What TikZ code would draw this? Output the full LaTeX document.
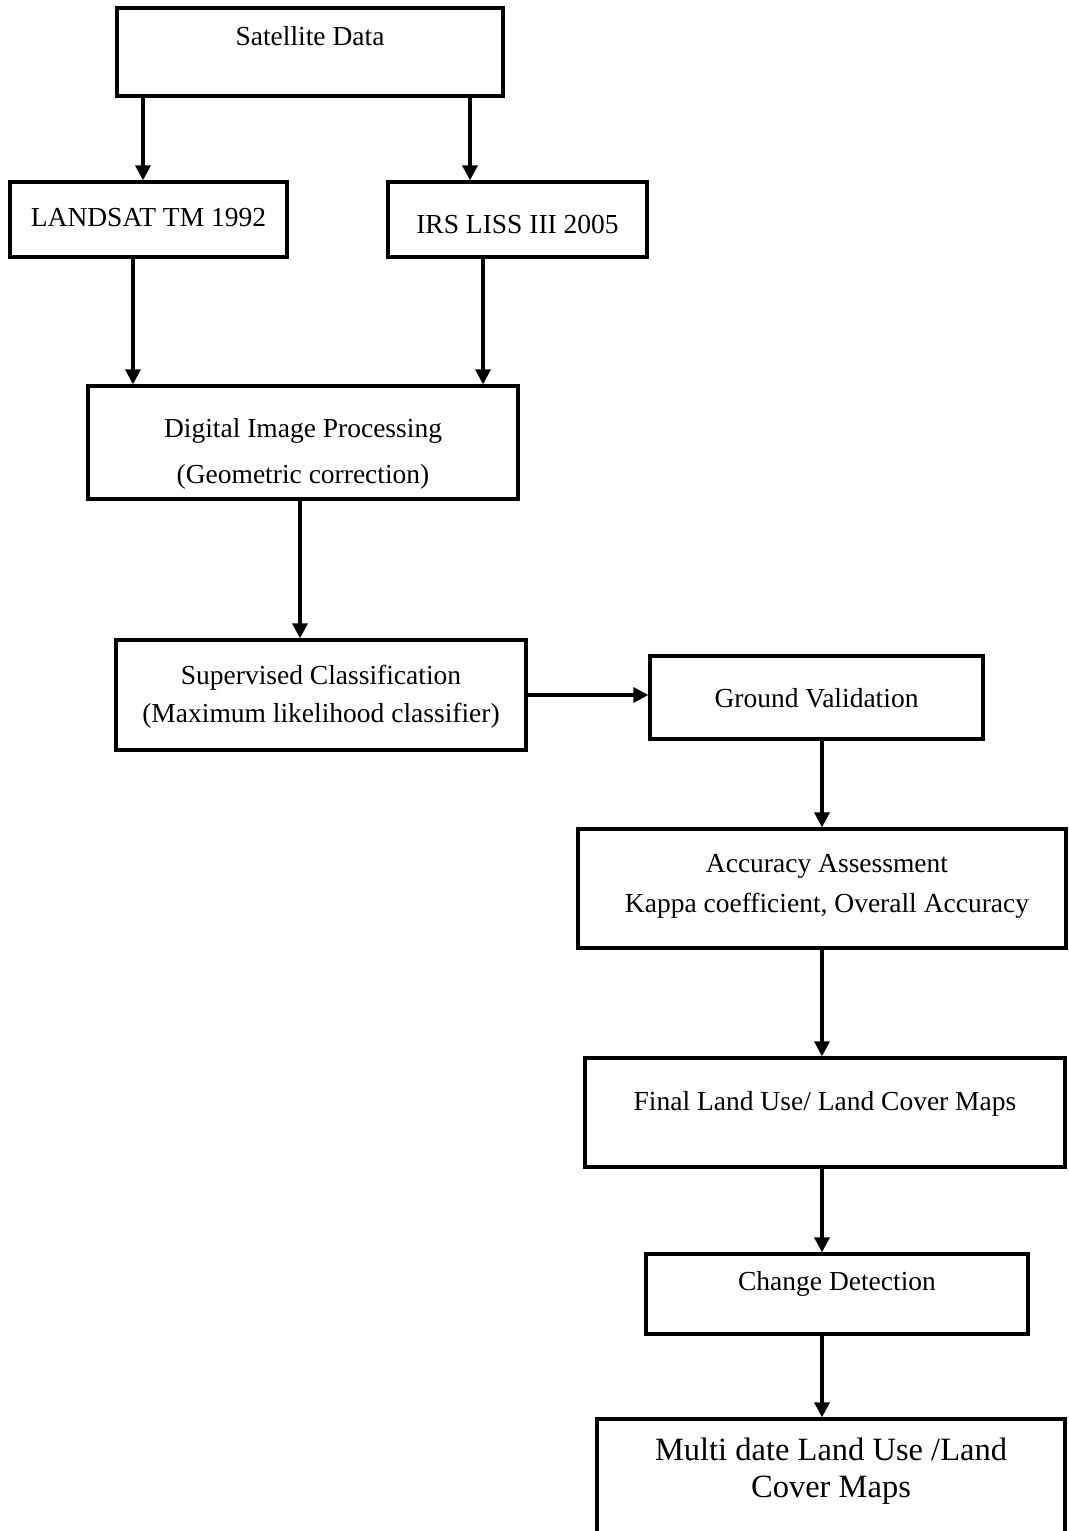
\documentclass[tikz,border=0pt]{standalone}
\usepackage{fontspec}
\setmainfont{Liberation Serif}
\usetikzlibrary{arrows.meta}
\begin{document}
\begin{tikzpicture}[x=1pt,y=-1pt,
  box/.style={draw=black,line width=3.3pt,fill=white,inner sep=0pt,rectangle},
  txt/.style={anchor=base,inner sep=0pt,font=\fontsize{27.5}{33}\selectfont},
  bigtxt/.style={anchor=base,inner sep=0pt,font=\fontsize{32.5}{38}\selectfont},
  arr/.style={line width=3.3pt,-{Triangle[length=15pt,width=15pt]}}]
\useasboundingbox (0,0) rectangle (1068,1531);
\clip (0,0) rectangle (1068,1531);

% boxes
\node[box,minimum width=386,minimum height=88] (sat) at (310,52) {};
\node[box,minimum width=277,minimum height=75] (land) at (148.5,219.5) {};
\node[box,minimum width=259,minimum height=75] (irs) at (517.5,219.5) {};
\node[box,minimum width=430,minimum height=113] (dip) at (303,442.5) {};
\node[box,minimum width=410,minimum height=110] (sc) at (321,695) {};
\node[box,minimum width=333,minimum height=83] (gv) at (816.5,697.5) {};
\node[box,minimum width=488,minimum height=119] (aa) at (822,888.5) {};
\node[box,minimum width=480,minimum height=109] (flu) at (825,1112.5) {};
\node[box,minimum width=382,minimum height=80] (cd) at (837,1294) {};
\node[box,minimum width=468,minimum height=141] (md) at (831,1489.5) {};

% labels
\node[txt] (tsat) at (310,45) {Satellite Data};
\node[txt] (tland) at (148.5,226) {LANDSAT TM 1992};
\node[txt] (tirs) at (517.5,233) {IRS LISS III 2005};
\node[txt] (tdip1) at (303,437) {Digital Image Processing};
\node[txt] (tdip2) at (303,483) {(Geometric correction)};
\node[txt] (tsc1) at (321,684) {Supervised Classification};
\node[txt] (tsc2) at (321,722) {(Maximum likelihood classifier)};
\node[txt] (tgv) at (816.5,707) {Ground Validation};
\node[txt] (taa1) at (827,872) {Accuracy Assessment};
\node[txt] (taa2) at (827,912) {Kappa coefficient, Overall Accuracy};
\node[txt] (tflu) at (825,1110) {Final Land Use/ Land Cover Maps};
\node[txt] (tcd) at (837,1290) {Change Detection};
\node[bigtxt] (tmd1) at (831,1460) {Multi date Land Use /Land};
\node[bigtxt] (tmd2) at (831,1497) {Cover Maps};

% connectors
\draw[arr] ([xshift=-167pt]sat.south) -- ([xshift=-5.5pt]land.north);
\draw[arr] ([xshift=160pt]sat.south) -- ([xshift=-47.5pt]irs.north);
\draw[arr] ([xshift=-15.5pt]land.south) -- ([xshift=-170pt]dip.north);
\draw[arr] ([xshift=-34.5pt]irs.south) -- ([xshift=180pt]dip.north);
\draw[arr] ([xshift=-3pt]dip.south) -- ([xshift=-21pt]sc.north);
\draw[arr] (sc.east) -- ([yshift=2.5pt]gv.west);
\draw[arr] ([xshift=5.5pt]gv.south) -- (aa.north);
\draw[arr] (aa.south) -- ([xshift=-3pt]flu.north);
\draw[arr] ([xshift=-3pt]flu.south) -- ([xshift=-15pt]cd.north);
\draw[arr] ([xshift=-15pt]cd.south) -- ([xshift=-9pt]md.north);
\end{tikzpicture}
\end{document}
